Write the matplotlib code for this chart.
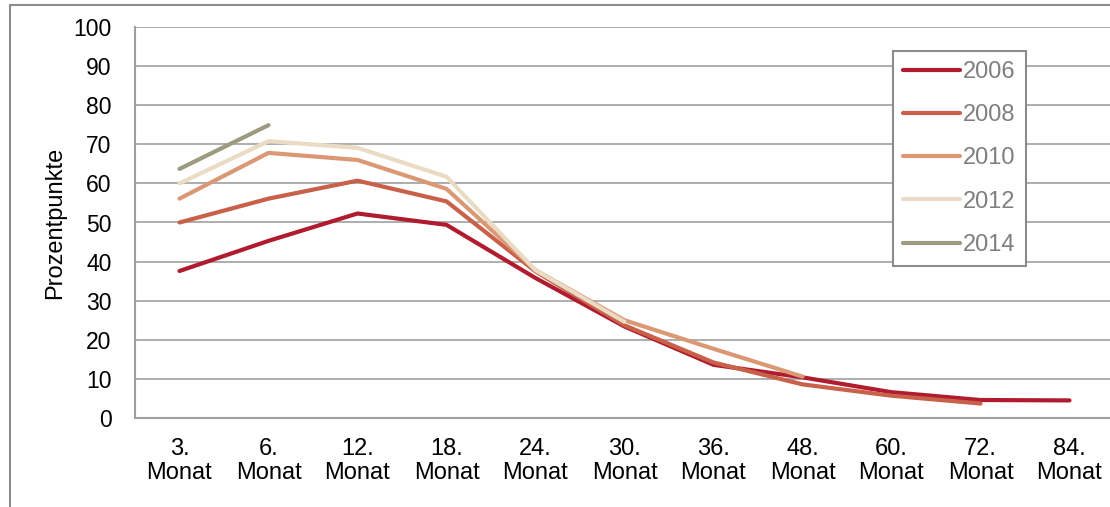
import matplotlib
matplotlib.use("Agg")
import matplotlib.pyplot as plt
from matplotlib.patches import Rectangle

plt.rcParams['font.family'] = ['Liberation Sans', 'DejaVu Sans']

categories = ["3.\nMonat", "6.\nMonat", "12.\nMonat", "18.\nMonat", "24.\nMonat",
              "30.\nMonat", "36.\nMonat", "48.\nMonat", "60.\nMonat", "72.\nMonat", "84.\nMonat"]

s2006 = [37.6, 45.3, 52.3, 49.4, 35.8, 23.4, 13.6, 10.4, 6.6, 4.6, 4.5]
s2008 = [50.0, 56.1, 60.7, 55.4, 37.5, 23.7, 14.2, 8.6, 5.7, 3.7]
s2010 = [56.1, 67.8, 66.0, 58.6, 37.8, 25.0, 17.7, 10.6]
s2012 = [60.0, 70.8, 69.1, 61.7, 37.8, 24.6]
s2014 = [63.7, 74.9]

series = [("2006", s2006, "#B01C2E"),
          ("2008", s2008, "#C8604A"),
          ("2010", s2010, "#DA9875"),
          ("2012", s2012, "#EADCC4"),
          ("2014", s2014, "#9C9B7F")]

W, H = 1110, 507
fig = plt.figure(figsize=(W / 100, H / 100), dpi=100)
ax = fig.add_axes([135 / W, 89 / H, 979 / W, 391 / H])

for label, vals, col in series:
    ax.plot(range(len(vals)), vals, color=col, lw=3.0, label=label,
            solid_capstyle='round', solid_joinstyle='round', zorder=3)

ax.set_xlim(-0.5, 10.5)
ax.set_ylim(0, 100)
ax.set_yticks(range(0, 101, 10))
ax.set_xticks(range(len(categories)))
ax.set_xticklabels(categories, fontsize=17, linespacing=1.1)
ax.tick_params(axis='y', labelsize=16.5, length=0, pad=17)
ax.tick_params(axis='x', length=0, pad=14.5)
ax.yaxis.grid(True, color='#A0A0A0', lw=1.2, zorder=0)
ax.set_axisbelow(True)
for s in ['top', 'right']:
    ax.spines[s].set_visible(False)
for s in ['left', 'bottom']:
    ax.spines[s].set_color('#A0A0A0')
    ax.spines[s].set_linewidth(1.5)

fig.text(55 / W, 1 - 223 / H, "Prozentpunkte", rotation=90, fontsize=17,
         ha='center', va='center')

leg = ax.legend(loc='upper left', bbox_to_anchor=(893 / W, 1 - 51 / H),
                bbox_transform=fig.transFigure, borderaxespad=0,
                fontsize=17, handlelength=2.4, handletextpad=0.15,
                labelspacing=0.9, borderpad=0.42, fancybox=False,
                edgecolor='#8C8C8C', framealpha=1)
leg.get_frame().set_linewidth(1.5)
for t in leg.get_texts():
    t.set_color('#7F7F7F')

fig.patches.append(Rectangle((10 / W, -0.1), 1.2, 1.1 - 5 / H, transform=fig.transFigure,
                             fill=False, edgecolor='#8C8C8C', lw=1.5, zorder=0))

fig.savefig("out.png", dpi=100)
